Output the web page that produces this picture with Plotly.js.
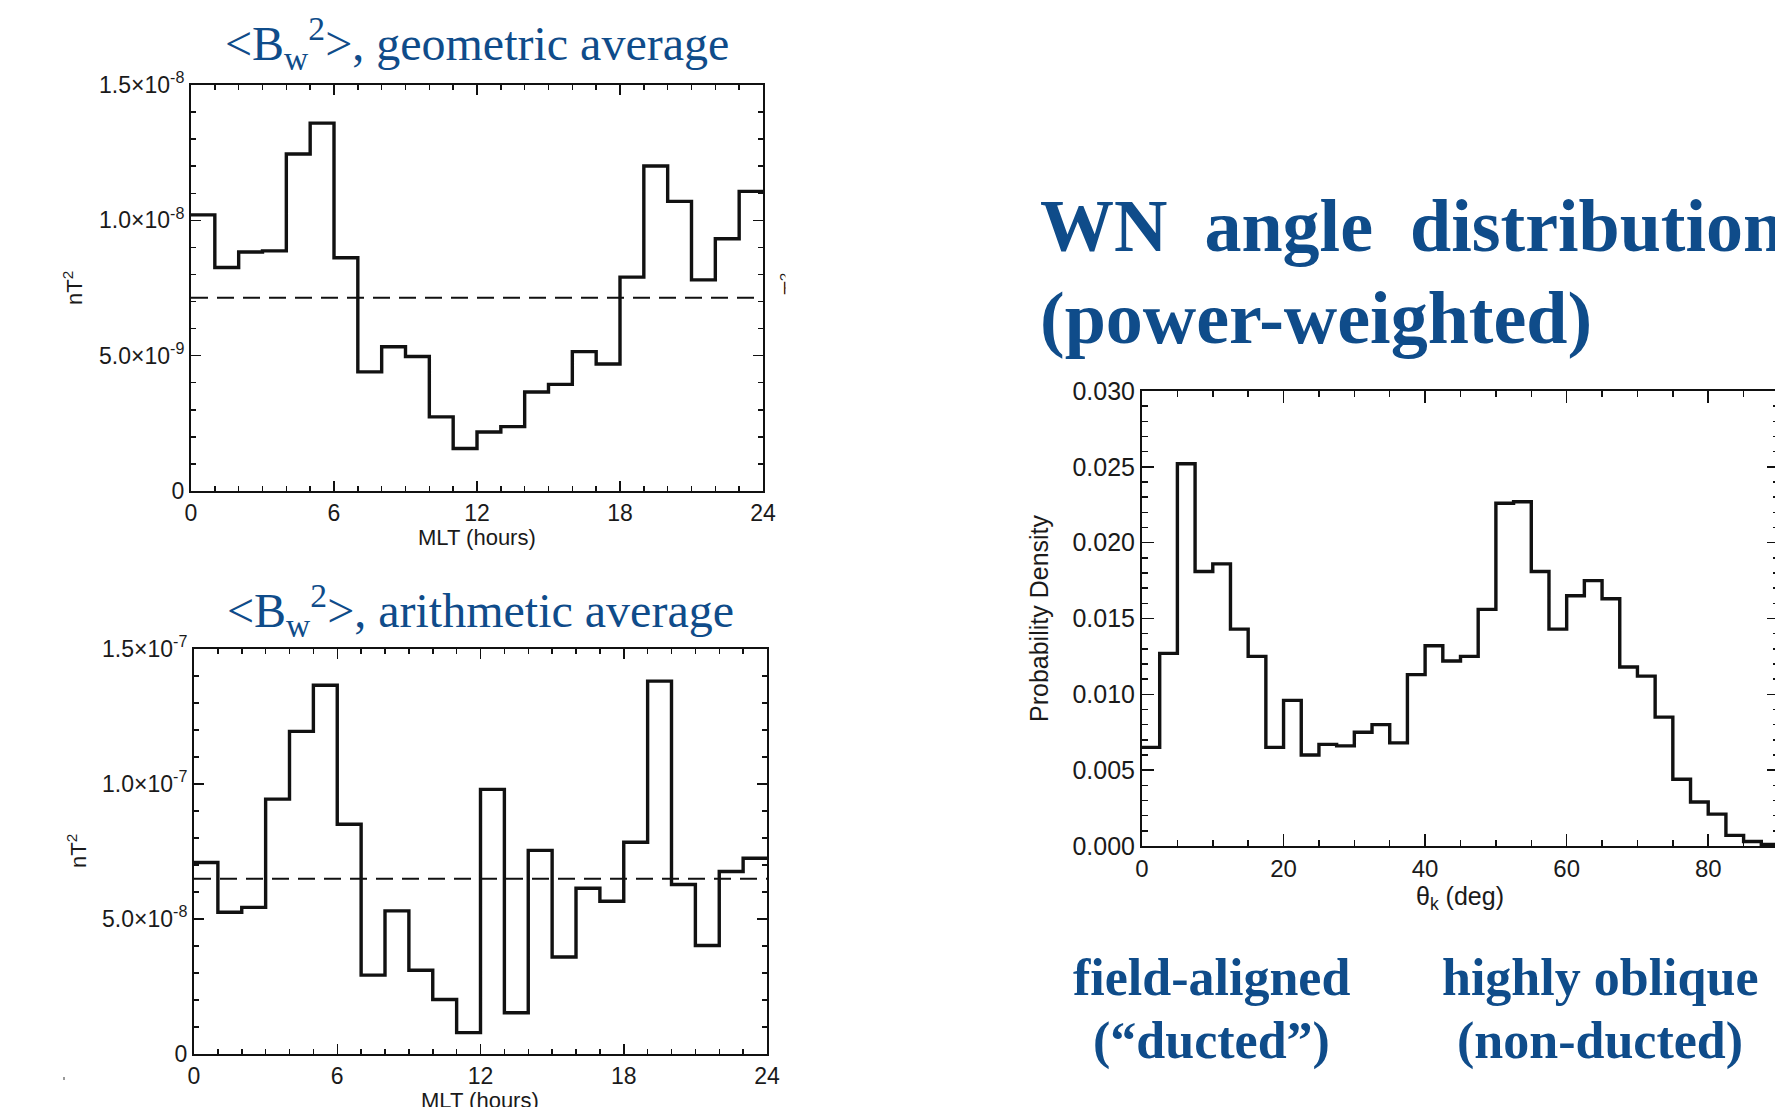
<!DOCTYPE html>
<html>
<head>
<meta charset="utf-8">
<script src="https://cdn.plot.ly/plotly-3.0.1.min.js"></script>
<style>
  html, body { margin: 0; padding: 0; overflow: hidden; background: #ffffff; }
  #fig { width: 1790px; height: 1107px; }
</style>
</head>
<body>
<div id="fig"></div>
<script>
// ---- Wave power <Bw^2> per one-hour MLT bin ----
const mltEdges = [0, 1, 2, 3, 4, 5, 6, 7, 8, 9, 10, 11, 12, 13, 14, 15, 16, 17, 18, 19, 20, 21, 22, 23, 24];

// geometric average, nT^2
const geoPower = [1.02e-8, 8.26e-9, 8.83e-9, 8.87e-9, 1.245e-8, 1.359e-8, 8.62e-9, 4.40e-9,
                  5.33e-9, 4.97e-9, 2.74e-9, 1.57e-9, 2.18e-9, 2.38e-9, 3.66e-9, 3.94e-9,
                  5.15e-9, 4.69e-9, 7.90e-9, 1.201e-8, 1.070e-8, 7.80e-9, 9.32e-9, 1.107e-8];
const geoMeanLevel = 7.14e-9;

// arithmetic average, nT^2
const arithPower = [7.09e-8, 5.25e-8, 5.43e-8, 9.44e-8, 1.195e-7, 1.366e-7, 8.51e-8, 2.92e-8,
                    5.30e-8, 3.10e-8, 2.02e-8, 0.79e-8, 9.80e-8, 1.53e-8, 7.54e-8, 3.59e-8,
                    6.14e-8, 5.66e-8, 7.84e-8, 1.381e-7, 6.28e-8, 4.02e-8, 6.76e-8, 7.25e-8];
const arithMeanLevel = 6.49e-8;

const mltTickVals = [0, 6, 12, 18, 24];
const mltTickText = ['0', '6', '12', '18', '24'];
const geoTickVals = [0, 5e-9, 1e-8, 1.5e-8];
const geoTickText = ['0', '5.0×10<sup>-9</sup>', '1.0×10<sup>-8</sup>', '1.5×10<sup>-8</sup>'];
const arithTickVals = [0, 5e-8, 1e-7, 1.5e-7];
const arithTickText = ['0', '5.0×10<sup>-8</sup>', '1.0×10<sup>-7</sup>', '1.5×10<sup>-7</sup>'];

// ---- Wave-normal angle distribution, 2.5 deg bins ----
const angleEdges = [0, 2.5, 5, 7.5, 10, 12.5, 15, 17.5, 20, 22.5, 25, 27.5, 30, 32.5, 35, 37.5,
                    40, 42.5, 45, 47.5, 50, 52.5, 55, 57.5, 60, 62.5, 65, 67.5, 70, 72.5, 75,
                    77.5, 80, 82.5, 85, 87.5, 90];
const angleDensity = [0.0065, 0.0127, 0.0252, 0.0181, 0.0186, 0.0143, 0.0125, 0.0065, 0.0096,
                      0.0060, 0.0067, 0.0066, 0.0075, 0.0080, 0.0068, 0.0113, 0.0132, 0.0122,
                      0.0125, 0.0156, 0.0226, 0.0227, 0.0181, 0.0143, 0.0165, 0.0175, 0.0163,
                      0.0118, 0.0112, 0.0085, 0.0044, 0.0029, 0.0021, 0.0007, 0.0003, 0.0001];
const angleTickVals = [0, 20, 40, 60, 80];
const angleTickText = ['0', '20', '40', '60', '80'];
const densityTickVals = [0, 0.005, 0.010, 0.015, 0.020, 0.025, 0.030];
const densityTickText = ['0.000', '0.005', '0.010', '0.015', '0.020', '0.025', '0.030'];

// ---- figure geometry (pixels) ----
const W = 1790, H = 1107;
const fx = p => p / W;
const fy = p => 1 - p / H;

const BLUE = '#0f4c8a';
const INK = '#111111';
const LABEL = '#1a1a1a';
const SANS = '"Liberation Sans", Arial, Helvetica, sans-serif';
const SERIF = '"Liberation Serif", "Times New Roman", Times, serif';

// histogram outline drawn as a step line over the bin edges
function stepTrace(edges, values, xa, ya) {
  return {
    type: 'scatter', mode: 'lines', xaxis: xa, yaxis: ya,
    x: edges, y: values.concat([values[values.length - 1]]),
    line: { shape: 'hv', color: INK, width: 3.4 },
    hoverinfo: 'skip', showlegend: false
  };
}
// dashed reference level across the whole MLT range
function levelTrace(edges, level, xa, ya) {
  return {
    type: 'scatter', mode: 'lines', xaxis: xa, yaxis: ya,
    x: [edges[0], edges[edges.length - 1]], y: [level, level],
    line: { color: INK, width: 2, dash: '17px,9px' },
    hoverinfo: 'skip', showlegend: false
  };
}

function axisBase(extra) {
  return Object.assign({
    showline: true, linecolor: INK, linewidth: 2, mirror: 'allticks',
    ticks: 'inside', ticklen: 10, tickwidth: 1.5, tickcolor: INK,
    showgrid: false, zeroline: false, fixedrange: true,
    tickfont: { family: SANS, size: 23, color: LABEL },
    tickmode: 'array'
  }, extra);
}
function minorTicks(step, len) {
  return { dtick: step, tick0: 0, ticklen: len, tickwidth: 1.5, tickcolor: INK, ticks: 'inside' };
}

const data = [
  stepTrace(mltEdges, geoPower, 'x', 'y'),
  levelTrace(mltEdges, geoMeanLevel, 'x', 'y'),
  stepTrace(mltEdges, arithPower, 'x2', 'y2'),
  levelTrace(mltEdges, arithMeanLevel, 'x2', 'y2'),
  stepTrace(angleEdges, angleDensity, 'x3', 'y3')
];

function note(x, y, text, font, extra) {
  return Object.assign({
    xref: 'paper', yref: 'paper', x: fx(x), y: fy(y),
    xanchor: 'center', yanchor: 'middle', showarrow: false, text: text, font: font
  }, extra || {});
}
const headFont = { family: SERIF, size: 48, color: BLUE };
const bigFont = { family: SERIF, size: 74, color: BLUE, weight: 'bold' };
const tagFont = { family: SERIF, size: 52, color: BLUE, weight: 'bold' };
const axFont = { family: SANS, size: 22, color: LABEL };
const axFontR = { family: SANS, size: 25, color: LABEL };

const layout = {
  width: W, height: H,
  margin: { l: 0, r: 0, t: 0, b: 0 },
  paper_bgcolor: '#ffffff', plot_bgcolor: 'rgba(0,0,0,0)',
  showlegend: false,
  xaxis: axisBase({
    domain: [fx(191), fx(763)], anchor: 'y', range: [0, 24],
    tickvals: mltTickVals, ticktext: mltTickText, minor: minorTicks(1, 5)
  }),
  yaxis: axisBase({
    domain: [fy(491), fy(85)], anchor: 'x', range: [0, 1.5e-8],
    tickvals: geoTickVals, ticktext: geoTickText, minor: minorTicks(1e-9, 5)
  }),
  xaxis2: axisBase({
    domain: [fx(194), fx(767)], anchor: 'y2', range: [0, 24],
    tickvals: mltTickVals, ticktext: mltTickText, minor: minorTicks(1, 5)
  }),
  yaxis2: axisBase({
    domain: [fy(1054), fy(649)], anchor: 'x2', range: [0, 1.5e-7],
    tickvals: arithTickVals, ticktext: arithTickText, minor: minorTicks(1e-8, 5)
  }),
  xaxis3: axisBase({
    domain: [fx(1142), fx(1779)], anchor: 'y3', range: [0, 90],
    tickvals: angleTickVals, ticktext: angleTickText, ticklen: 12,
    tickfont: { family: SANS, size: 24, color: LABEL }, minor: minorTicks(5, 6)
  }),
  yaxis3: axisBase({
    domain: [fy(846), fy(391)], anchor: 'x3', range: [0, 0.030],
    tickvals: densityTickVals, ticktext: densityTickText, ticklen: 12,
    tickfont: { family: SANS, size: 25, color: LABEL }, minor: minorTicks(0.001, 6)
  }),
  shapes: [
    // small stray mark in the lower-left margin
    { type: 'rect', xref: 'paper', yref: 'paper', x0: fx(63), x1: fx(65), y0: fy(1080), y1: fy(1077),
      fillcolor: '#9a9a9a', line: { width: 0 } }
  ],
  annotations: [
    // panel headings
    note(477, 44, '&lt;B<sub>w</sub><sup>2</sup>&gt;, geometric average', headFont),
    note(480, 610, '&lt;B<sub>w</sub><sup>2</sup>&gt;, arithmetic average', headFont),
    note(1038, 226, 'WN\u00A0\u00A0angle\u00A0\u00A0distribution', bigFont, { xanchor: 'left' }),
    note(1038, 318, '(power-weighted)', bigFont, { xanchor: 'left' }),
    note(1211, 977, 'field-aligned', tagFont),
    note(1211, 1041, '(\u201Cducted\u201D)', tagFont),
    note(1600, 977, 'highly oblique', tagFont),
    note(1600, 1041, '(non-ducted)', tagFont),
    // axis titles
    note(73, 288, 'nT<sup>2</sup>', axFont, { textangle: -90 }),
    note(477, 537, 'MLT (hours)', axFont),
    note(77, 851, 'nT<sup>2</sup>', axFont, { textangle: -90 }),
    note(480, 1100, 'MLT (hours)', axFont),
    note(1039, 618, 'Probability Density', axFontR, { textangle: -90 }),
    note(1460, 898, '\u03B8<sub>k</sub> (deg)', axFontR),
    // unit label of a neighbouring panel, clipped at the upper panel's right edge
    note(790, 290, 'nT<sup>2</sup>', axFont, { textangle: -90 }),
    note(785, 290, ' ', axFont, { xanchor: 'left', width: 40, height: 90, bgcolor: '#ffffff', borderpad: 0 })
  ]
};

Plotly.newPlot('fig', data, layout, { staticPlot: true, displayModeBar: false });
</script>
</body>
</html>
